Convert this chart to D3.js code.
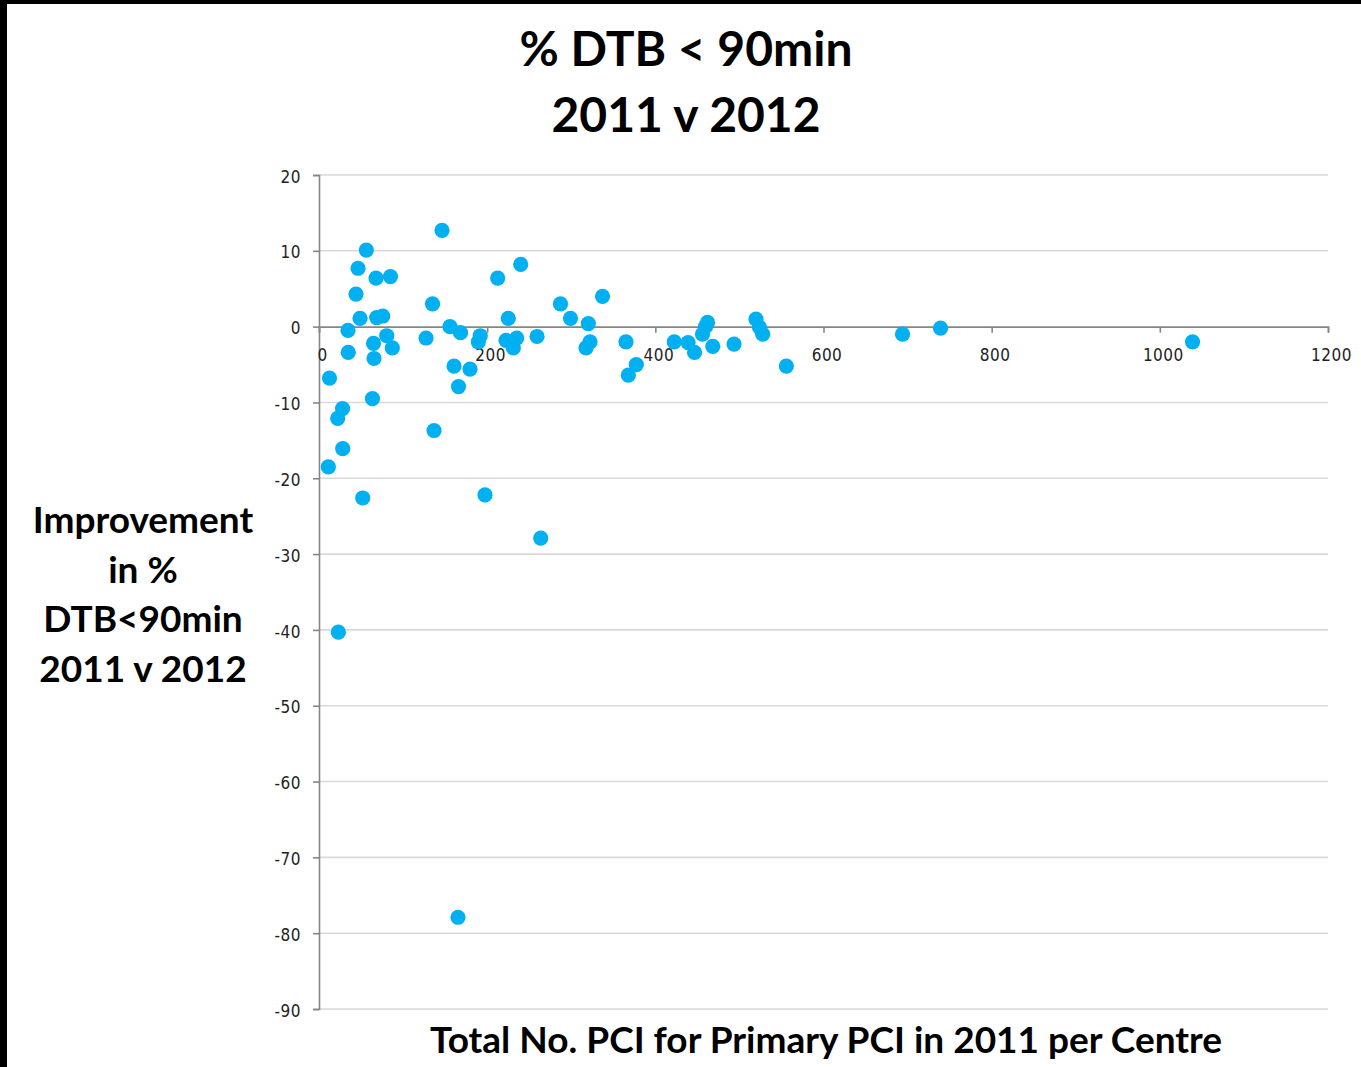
<!DOCTYPE html>
<html>
<head>
<meta charset="utf-8">
<script src="https://cdn.jsdelivr.net/npm/d3@7"></script>
<style>
  html, body { margin: 0; padding: 0; background: #ffffff; }
  svg { display: block; }
</style>
</head>
<body>
<svg id="chart" width="1361" height="1067"></svg>
<script>
// Total primary PCI per centre in 2011 (x) vs change in % DTB < 90 min, 2011 v 2012 (y)
const pciTotals = [
  12.5, 22.2, 28.0, 34.5, 34.8, 44.0, 46.4, 48.8, 56.3, 63.6,
  64.8, 65.4, 67.8, 68.6, 75.8, 80.5, 85.0, 87.2, 127.3, 135.0,
  136.8, 146.3, 155.8, 160.6, 165.9, 168.3, 179.6, 189.5, 191.8, 212.5,
  225.1, 222.4, 231.1, 235.1, 239.9, 259.3, 287.2, 299.1, 320.3, 317.6,
  322.3, 337.2, 365.1, 367.9, 377.4, 422.5, 438.9, 446.6, 456.1, 462.1,
  459.7, 468.3, 493.6, 519.7, 523.9, 527.7, 555.8, 694.0, 739.2, 1038.9,
  28.2, 11.1, 52.0, 197.4, 263.7, 23.0, 165.3
];
const improvement = [
  -6.8, -12.1, -10.8, -0.5, -3.4, 4.3, 7.7, 1.1, 10.1, -9.5,
  -2.2, -4.2, 6.4, 1.2, 1.4, -1.2, 6.6, -2.8, -1.5, 3.0,
  -13.7, 12.7, 0.0, -5.2, -7.9, -0.8, -5.6, -2.0, -1.2, 6.4,
  1.1, -1.8, -2.8, -1.5, 8.2, -1.3, 3.0, 1.1, 0.4, -2.8,
  -2.0, 4.0, -2.0, -6.4, -5.0, -2.0, -2.1, -3.4, -1.0, 0.55,
  0.0, -2.6, -2.3, 1.0, -0.1, -1.0, -5.2, -1.0, -0.2, -2.0,
  -16.1, -18.5, -22.6, -22.2, -27.9, -40.3, -77.9
];
const xTicks = [0, 200, 400, 600, 800, 1000, 1200];
const yTicks = [20, 10, 0, -10, -20, -30, -40, -50, -60, -70, -80, -90];

const titleLines = ["% DTB < 90min", "2011 v 2012"];
const yTitleLines = ["Improvement", "in %", "DTB<90min", "2011 v 2012"];
const xTitle = "Total No. PCI for Primary PCI in 2011 per Centre";

const points = pciTotals.map((v, i) => ({ x: v, y: improvement[i] }));

const svg = d3.select("#chart");
const W = 1361, H = 1067;
const plot = { left: 319, right: 1328, top: 175, bottom: 1009 };

const x = d3.scaleLinear().domain([0, 1200]).range([plot.left, plot.right]);
const y = d3.scaleLinear().domain([-90, 20]).range([plot.bottom, plot.top]);

const axisColor = "#868686";
const gridColor = "#d9d9d9";
const tickFont = "'DejaVu Sans Condensed', 'DejaVu Sans', sans-serif";
const titleFont = "Lato, 'Open Sans', sans-serif";
const plainNumber = d => String(d); // ASCII hyphen for negatives

// Frame edges
svg.append("rect").attr("x", 0).attr("y", 0).attr("width", W).attr("height", H).attr("fill", "#fff");
svg.append("rect").attr("x", 0).attr("y", 0).attr("width", 7).attr("height", H).attr("fill", "#000");
svg.append("rect").attr("x", 0).attr("y", 0).attr("width", W).attr("height", 4).attr("fill", "#000");

// Horizontal gridlines
svg.append("g")
  .selectAll("line")
  .data(yTicks.filter(d => d !== 0))
  .join("line")
  .attr("x1", plot.left).attr("x2", plot.right)
  .attr("y1", d => y(d)).attr("y2", d => y(d))
  .attr("stroke", gridColor).attr("stroke-width", 1.6);

// Y axis
const yAxis = svg.append("g")
  .attr("transform", `translate(${plot.left},0)`)
  .call(d3.axisLeft(y).tickValues(yTicks).tickSize(6).tickPadding(12).tickFormat(plainNumber));
yAxis.select(".domain").attr("stroke", axisColor).attr("stroke-width", 1.6);
yAxis.selectAll(".tick line").attr("stroke", axisColor).attr("stroke-width", 1.6);
yAxis.selectAll(".tick text")
  .attr("font-family", tickFont).attr("font-size", 17).attr("fill", "#222")
  .attr("dy", "0.42em").attr("letter-spacing", 0.5);

// X axis crossing at y = 0
const xAxis = svg.append("g")
  .attr("transform", `translate(0,${y(0)})`)
  .call(d3.axisBottom(x).tickValues(xTicks).tickSize(6).tickPadding(16).tickFormat(plainNumber));
xAxis.select(".domain").attr("stroke", axisColor).attr("stroke-width", 1.6);
xAxis.selectAll(".tick line").attr("stroke", axisColor).attr("stroke-width", 1.6);
xAxis.selectAll(".tick text")
  .attr("font-family", tickFont).attr("font-size", 17).attr("fill", "#222")
  .attr("dx", 3).attr("letter-spacing", 0.5);

// Data points
svg.append("g")
  .selectAll("circle")
  .data(points)
  .join("circle")
  .attr("cx", d => x(d.x))
  .attr("cy", d => y(d.y))
  .attr("r", 7.6)
  .attr("fill", "#00b0f0");

// Chart title
svg.append("g")
  .selectAll("text")
  .data(titleLines)
  .join("text")
  .attr("x", 686)
  .attr("y", (d, i) => 66 + i * 66)
  .attr("text-anchor", "middle")
  .attr("font-family", titleFont)
  .attr("font-weight", 700)
  .attr("font-size", 48)
  .attr("fill", "#000")
  .text(d => d);

// Y axis title
svg.append("g")
  .selectAll("text")
  .data(yTitleLines)
  .join("text")
  .attr("x", 143)
  .attr("y", (d, i) => 533 + i * 49.5)
  .attr("text-anchor", "middle")
  .attr("font-family", titleFont)
  .attr("font-weight", 700)
  .attr("font-size", 37)
  .attr("fill", "#000")
  .text(d => d);

// X axis title
svg.append("text")
  .attr("x", 826)
  .attr("y", 1053)
  .attr("text-anchor", "middle")
  .attr("font-family", titleFont)
  .attr("font-weight", 700)
  .attr("font-size", 37)
  .attr("fill", "#000")
  .text(xTitle);
</script>
</body>
</html>
